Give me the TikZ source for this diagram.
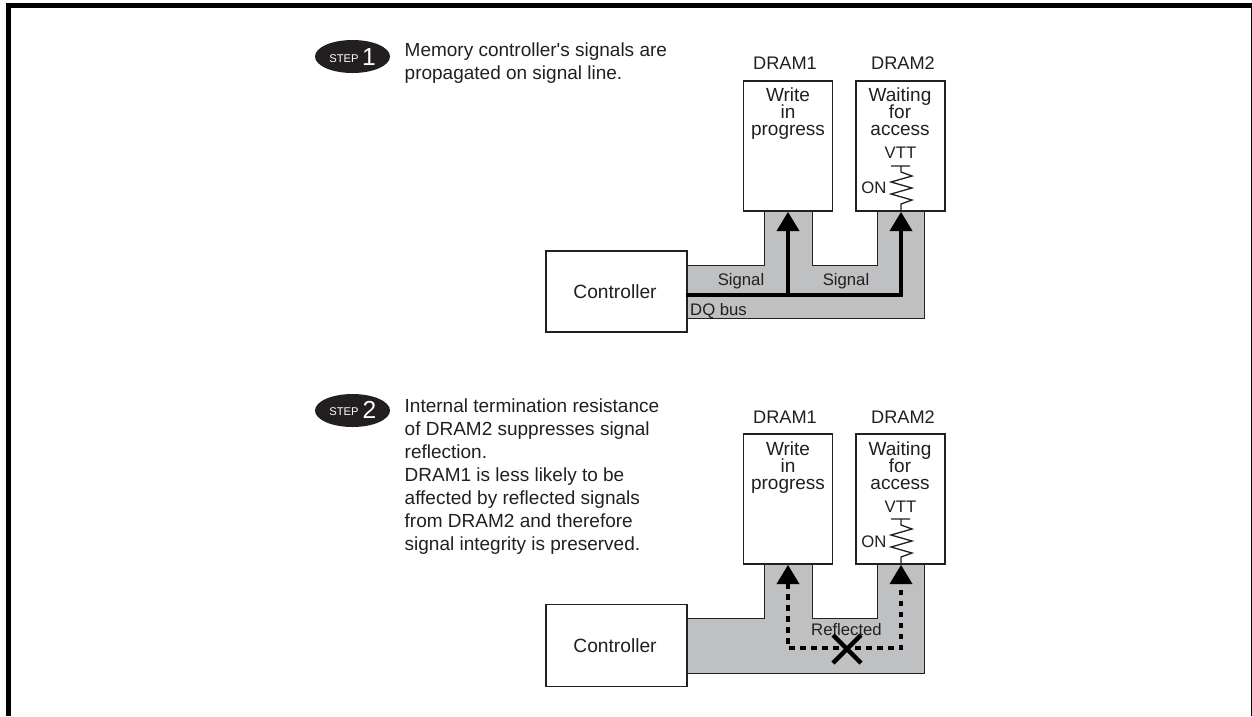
\documentclass[tikz,border=0pt]{standalone}
\usepackage{fontspec}
\setmainfont{Liberation Sans}[Ligatures=TeXOff]
\usetikzlibrary{shapes.geometric}
\definecolor{busgray}{RGB}{190,192,194}
\definecolor{txt}{RGB}{35,31,32}
\tikzset{
 x=1pt,y=-1pt,
 lbl/.style={inner sep=0pt,text=txt,font=\fontsize{18.2}{18.2}\selectfont,anchor=base},
 ctl/.style={inner sep=0pt,text=txt,font=\fontsize{19.2}{19.2}\selectfont,anchor=base},
 stack/.style={inner sep=0pt,text=txt,font=\fontsize{19}{17}\selectfont,anchor=base},
 para/.style={inner sep=0pt,text=txt,font=\fontsize{19}{23}\selectfont,align=left,anchor=north west},
 small/.style={inner sep=0pt,text=txt,font=\fontsize{16.7}{16.7}\selectfont,anchor=base},
 box/.style={draw=txt,line width=1.6pt,fill=white,inner sep=0pt},
 sig/.style={draw=black,line width=4.6pt},
 dsig/.style={draw=black,line width=4.6pt,dash pattern=on 5.5pt off 5.5pt},
 tip/.style={fill=black,draw=none},
 badge/.style={ellipse,fill=txt,minimum width=75pt,minimum height=33pt,inner sep=0pt},
 stepw/.style={inner sep=0pt,text=white,font=\fontsize{11.2}{11.2}\selectfont,anchor=base},
 stepn/.style={inner sep=0pt,text=white,font=\fontsize{24.6}{24.6}\selectfont,anchor=base},
}
\newcommand{\resistor}[3]{% x, ytop, ybot
 \draw[draw=txt,line width=1.3pt,line join=miter] (#1-10,#2) -- (#1+9,#2) (#1,#2) -- (#1,#2+6) -- (#1+11,#2+10) -- (#1-10,#2+16) -- (#1+11,#2+22) -- (#1-10,#2+28) -- (#1+11,#2+34) -- (#1,#2+38) -- (#1,#3);
}
\begin{document}
\begin{tikzpicture}
\useasboundingbox (0,0) rectangle (1252,716);
\fill[black] (6,3) rectangle (1252,8);
\fill[black] (6,3) rectangle (11,716);
\fill[black] (1251,3) rectangle (1252,716);

% STEP 1
\node[badge] (b1) at (352.5,56.5) {};
\node[stepw] (b1s) at (344,62) {STEP};
\node[stepn] (b1n) at (369,65) {1};
\node[para] (t1) at (404.5,43) {Memory controller's signals are\\propagated on signal line.};

\fill[busgray] (686,265) -- (764,265) -- (764,210) -- (812,210) -- (812,265) -- (877,265) -- (877,210) -- (924.5,210) -- (924.5,318) -- (686,318) -- cycle;
\draw[txt,line width=0.9pt] (686,265) -- (764,265) -- (764,210) (812,210) -- (812,265) -- (877,265) -- (877,210) (924.5,210) -- (924.5,318) -- (686,318);
\node[box,minimum width=89pt,minimum height=130pt] (d1a) at (788,146) {};
\node[box,minimum width=89pt,minimum height=130pt] (d2a) at (900.5,146) {};
\node[box,minimum width=141pt,minimum height=81pt] (ca) at (616.5,291.5) {};
\node[ctl] (ca1) at (615,298) {Controller};
\node[lbl] at (785,69) {DRAM1};
\node[lbl] at (903,69) {DRAM2};
\node[stack] at (788,101) {Write};
\node[stack] at (788,118) {in};
\node[stack] at (788,135) {progress};
\node[stack] at (900,101) {Waiting};
\node[stack] at (900,118) {for};
\node[stack] at (900,135) {access};
\node[small] at (900.5,158) {VTT};
\node[small] at (874,193) {ON};
\resistor{901}{166}{211}
\node[small] at (741,285) {Signal};
\node[small] at (846,285) {Signal};
\node[small,anchor=base west] at (690,315) {DQ bus};
\coordinate (j0) at (686,295);
\coordinate (j1) at (788,295);
\coordinate (j2) at (901,295);
\coordinate (a1) at (788,212);
\coordinate (a2) at (901,212);
\draw[sig] (j0) -- (j2) -- (901,225);
\draw[sig] (j1) -- (788,225);
\fill[tip] (a1) -- (776.5,231) -- (799.5,231) -- cycle;
\fill[tip] (a2) -- (889.5,231) -- (912.5,231) -- cycle;

% STEP 2
\node[badge] (b2) at (352.5,410.5) {};
\node[stepw] (b2s) at (344,415) {STEP};
\node[stepn] (b2n) at (369.5,418) {2};
\node[para] (t2) at (404.5,399) {Internal termination resistance\\of DRAM2 suppresses signal\\reflection.\\DRAM1 is less likely to be\\affected by reflected signals\\from DRAM2 and therefore\\signal integrity is preserved.};

\fill[busgray] (686,618) -- (764,618) -- (764,564) -- (812,564) -- (812,618) -- (877,618) -- (877,564) -- (924.5,564) -- (924.5,673) -- (686,673) -- cycle;
\draw[txt,line width=0.9pt] (686,618) -- (764,618) -- (764,564) (812,564) -- (812,618) -- (877,618) -- (877,564) (924.5,564) -- (924.5,673) -- (686,673);
\node[box,minimum width=89pt,minimum height=130pt] (d1b) at (788,499) {};
\node[box,minimum width=89pt,minimum height=130pt] (d2b) at (900.5,499) {};
\node[box,minimum width=141pt,minimum height=82pt] (cb) at (616.5,645.5) {};
\node[ctl] at (615,652) {Controller};
\node[lbl] at (785,423) {DRAM1};
\node[lbl] at (903,423) {DRAM2};
\node[stack] at (788,455) {Write};
\node[stack] at (788,472) {in};
\node[stack] at (788,489) {progress};
\node[stack] at (900,455) {Waiting};
\node[stack] at (900,472) {for};
\node[stack] at (900,489) {access};
\node[small] at (900.5,512) {VTT};
\node[small] at (874,547) {ON};
\resistor{901}{519}{564}
\coordinate (k1) at (788,648);
\coordinate (k2) at (901,648);
\coordinate (a3) at (788,565);
\coordinate (a4) at (901,565);
\draw[dsig] (788,583) -- (k1) -- (k2) -- (901,583);
\fill[tip] (a3) -- (776.5,584) -- (799.5,584) -- cycle;
\fill[tip] (a4) -- (889.5,584) -- (912.5,584) -- cycle;
\node[small] at (846.5,635) {Reflected};
\draw[black,line width=4.4pt] (833,635) -- (861,663) (861,635) -- (833,663);
\end{tikzpicture}
\end{document}
